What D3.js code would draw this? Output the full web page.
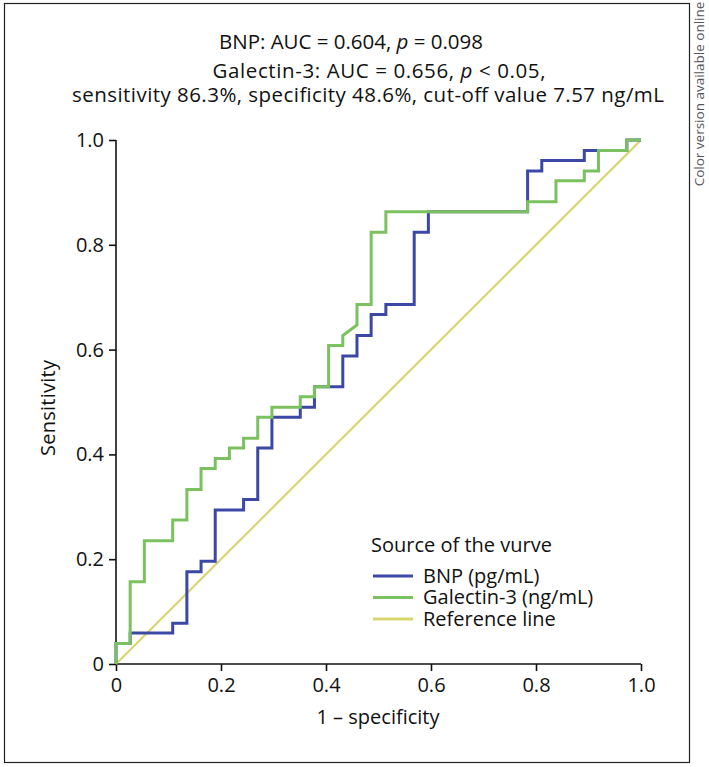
<!DOCTYPE html>
<html>
<head>
<meta charset="utf-8">
<script src="https://cdn.jsdelivr.net/npm/d3@7/dist/d3.min.js"></script>
<style>
body{margin:0;background:#fff;}
text{font-family:"Open Sans","Noto Sans",sans-serif;}
</style>
</head>
<body>
<svg id="c" width="709" height="767"></svg>
<script>
// Data
const xTicks = [0, 0.2, 0.4, 0.6, 0.8, 1.0];
const yTicks = [0, 0.2, 0.4, 0.6, 0.8, 1.0];
const xTickLabels = ["0", "0.2", "0.4", "0.6", "0.8", "1.0"];
const yTickLabels = ["0", "0.2", "0.4", "0.6", "0.8", "1.0"];
const seriesNames = ["BNP (pg/mL)", "Galectin-3 (ng/mL)", "Reference line"];
const seriesColors = ["#3c48a6", "#7cc160", "#d8d66e"];

const bnpFpr = [0, 0, 0.027, 0.027, 0.108, 0.108, 0.135, 0.135, 0.162, 0.162, 0.189, 0.189, 0.243, 0.243, 0.270, 0.270, 0.297, 0.297, 0.351, 0.351, 0.378, 0.378, 0.432, 0.432, 0.459, 0.459, 0.486, 0.486, 0.514, 0.514, 0.568, 0.568, 0.595, 0.595, 0.784, 0.784, 0.811, 0.811, 0.892, 0.892, 0.919, 0.973, 0.973, 1.0];
const bnpTpr = [0, 0.039, 0.039, 0.059, 0.059, 0.078, 0.078, 0.176, 0.176, 0.196, 0.196, 0.294, 0.294, 0.314, 0.314, 0.412, 0.412, 0.471, 0.471, 0.490, 0.490, 0.529, 0.529, 0.588, 0.588, 0.627, 0.627, 0.667, 0.667, 0.686, 0.686, 0.824, 0.824, 0.863, 0.863, 0.941, 0.941, 0.961, 0.961, 0.980, 0.980, 0.980, 1.0, 1.0];

const galFpr = [0, 0, 0.027, 0.027, 0.054, 0.054, 0.108, 0.108, 0.135, 0.135, 0.162, 0.162, 0.189, 0.189, 0.216, 0.216, 0.243, 0.243, 0.270, 0.270, 0.297, 0.297, 0.351, 0.351, 0.378, 0.378, 0.405, 0.405, 0.432, 0.432, 0.459, 0.459, 0.486, 0.486, 0.514, 0.514, 0.784, 0.784, 0.838, 0.838, 0.892, 0.892, 0.919, 0.919, 0.973, 0.973, 1.0];
const galTpr = [0, 0.039, 0.039, 0.157, 0.157, 0.235, 0.235, 0.275, 0.275, 0.333, 0.333, 0.373, 0.373, 0.392, 0.392, 0.412, 0.412, 0.431, 0.431, 0.471, 0.471, 0.490, 0.490, 0.510, 0.510, 0.529, 0.529, 0.608, 0.608, 0.627, 0.647, 0.686, 0.686, 0.824, 0.824, 0.863, 0.863, 0.882, 0.882, 0.922, 0.922, 0.941, 0.941, 0.980, 0.980, 1.0, 1.0];

const refFpr = [0, 1];
const refTpr = [0, 1];

const svg = d3.select("#c");
const FS = 20;
const TFS = 20.5;

// frame
svg.append("rect").attr("x", 4.5).attr("y", 3.5).attr("width", 685).attr("height", 759)
  .attr("fill", "none").attr("stroke", "#222").attr("stroke-width", 1.2);

svg.append("text").attr("transform", "translate(704,94) rotate(-90)")
  .attr("text-anchor", "middle").attr("font-size", 13.5).attr("fill", "#555")
  .text("Color version available online");

const x = d3.scaleLinear().domain([0, 1]).range([116, 641]);
const y = d3.scaleLinear().domain([0, 1]).range([664, 140]);

// titles
const t1 = svg.append("text").attr("x", 351).attr("y", 49).attr("text-anchor", "middle").attr("font-size", TFS).attr("fill", "#111")
  .attr("textLength", 264).attr("lengthAdjust", "spacing");
t1.append("tspan").text("BNP: AUC = 0.604, ");
t1.append("tspan").attr("font-style", "italic").text("p");
t1.append("tspan").text(" = 0.098");
const t2 = svg.append("text").attr("x", 379).attr("y", 78).attr("text-anchor", "middle").attr("font-size", TFS).attr("fill", "#111")
  .attr("textLength", 333).attr("lengthAdjust", "spacing");
t2.append("tspan").text("Galectin-3: AUC = 0.656, ");
t2.append("tspan").attr("font-style", "italic").text("p");
t2.append("tspan").text(" < 0.05,");
svg.append("text").attr("x", 368).attr("y", 102).attr("text-anchor", "middle").attr("font-size", TFS).attr("fill", "#111")
  .attr("textLength", 592).attr("lengthAdjust", "spacing")
  .text("sensitivity 86.3%, specificity 48.6%, cut-off value 7.57 ng/mL");

// axes
const xAxis = d3.axisBottom(x).tickValues(xTicks).tickFormat((d, i) => xTickLabels[i]).tickSize(7).tickPadding(7);
const yAxis = d3.axisLeft(y).tickValues(yTicks).tickFormat((d, i) => yTickLabels[i]).tickSize(7).tickPadding(5);
const gx = svg.append("g").attr("transform", "translate(0,664)").call(xAxis);
const gy = svg.append("g").attr("transform", "translate(116,0)").call(yAxis);
[gx, gy].forEach(g => {
  g.select(".domain").attr("stroke", "#111").attr("stroke-width", 1.6);
  g.selectAll(".tick line").attr("stroke", "#111").attr("stroke-width", 1.6);
  g.selectAll(".tick text").attr("font-size", FS).attr("fill", "#111").attr("font-family", '"Open Sans","Noto Sans",sans-serif');
});
gx.select(".domain").attr("d", "M116,0H641");
gy.select(".domain").attr("d", "M0,664V140");

svg.append("text").attr("x", 378).attr("y", 724).attr("text-anchor", "middle").attr("font-size", FS).attr("fill", "#111")
  .text("1 – specificity");
svg.append("text").attr("transform", "translate(55,408) rotate(-90)").attr("text-anchor", "middle").attr("font-size", FS).attr("fill", "#111")
  .attr("textLength", 96).attr("lengthAdjust", "spacing").text("Sensitivity");

// lines
const line = d3.line().x(d => x(d[0])).y(d => y(d[1]));
const refData = refFpr.map((v, i) => [v, refTpr[i]]);
const bnpData = bnpFpr.map((v, i) => [v, bnpTpr[i]]);
const galData = galFpr.map((v, i) => [v, galTpr[i]]);

svg.append("path").datum(refData).attr("d", line).attr("fill", "none").attr("stroke", seriesColors[2]).attr("stroke-width", 2.2);
svg.append("path").datum(bnpData).attr("d", line).attr("fill", "none").attr("stroke", seriesColors[0]).attr("stroke-width", 3);
svg.append("path").datum(galData).attr("d", line).attr("fill", "none").attr("stroke", seriesColors[1]).attr("stroke-width", 3);

// legend
svg.append("text").attr("x", 371).attr("y", 552).attr("font-size", FS).attr("fill", "#111").text("Source of the vurve");
const lg = svg.append("g");
seriesNames.forEach((n, i) => {
  const cy = 576 + i * 21.5;
  lg.append("line").attr("x1", 373).attr("x2", 413).attr("y1", cy).attr("y2", cy)
    .attr("stroke", seriesColors[i]).attr("stroke-width", 3);
  lg.append("text").attr("x", 423).attr("y", cy + 6.5).attr("font-size", FS).attr("fill", "#111").text(n);
});
</script>
</body>
</html>
